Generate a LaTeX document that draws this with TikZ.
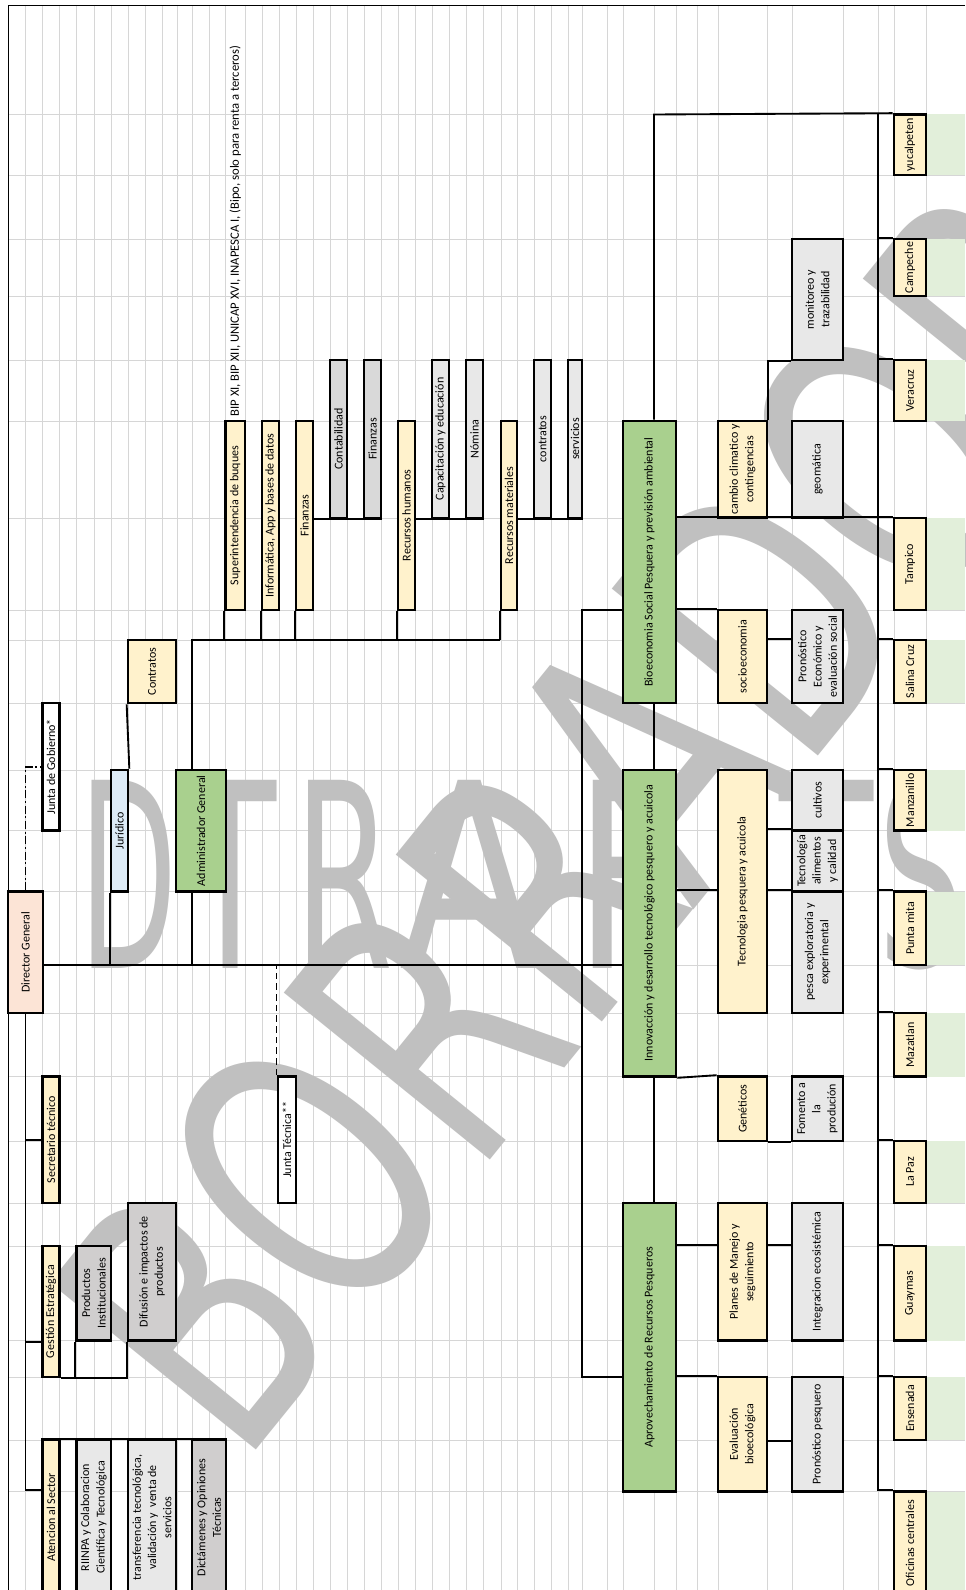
\documentclass[tikz,border=0pt]{standalone}
\usepackage{fontspec}
\setmainfont{Carlito}
\newfontfamily\wmfont{DejaVu Sans}
\usepackage{graphicx}
\usetikzlibrary{fit,calc}
\definecolor{xlyellow}{HTML}{FFF2CC}
\definecolor{xlgreen}{HTML}{A9D08E}
\definecolor{xlpink}{HTML}{FCE4D6}
\definecolor{xlblue}{HTML}{DDEBF7}
\definecolor{xlgray}{HTML}{D9D9D9}
\definecolor{xlstone}{HTML}{D0CECE}
\definecolor{xlsilver}{HTML}{E8E8E8}
\definecolor{xlmint}{HTML}{E2EFDA}
\definecolor{xlgrid}{HTML}{D6D6D6}
\definecolor{xlmark}{HTML}{C0C0C0}
\newlength\pxu
\setlength\pxu{0.75pt}

\begin{document}
\begin{tikzpicture}[
x=0.75pt,y=-0.75pt,
box/.style={draw=black,line width=2pt,inner sep=0pt},
lbl/.style={rotate=90,align=center,inner sep=0pt,font=\fontsize{9}{11.5}\selectfont},
txt/.style={label={[lbl]center:{#1}}},
yel/.style={box,fill=xlyellow},
grn/.style={box,fill=xlgreen},
gry/.style={box,fill=xlgray},
stn/.style={box,fill=xlstone},
lgry/.style={box,fill=xlsilver},
wht/.style={box,fill=white},
ln/.style={line width=1.4pt},
gridln/.style={xlgrid,line width=0.6pt},
wmark/.style={text=xlmark,inner sep=0pt}
]
\useasboundingbox (0,0) rectangle (965,1590);
\fill[white] (0,0) rectangle (965,1590);
\foreach \x in {25,42.5,59.5,76.5,94,111,128,145,162,177,192,209,225.5,245,262,279,296,313,330,347,364,381,398,415,432,449,466,483,501,517,534,551,568,582,607,623,654,676,697,718,767,792,843,878,894,926}
\draw[gridln] (\x,5) -- (\x,1590);
\foreach \y in {114.5,175,239,296,360,421,518,610,640,703,770,830.5,891.5,965,1013,1076.5,1141,1203,1246,1340.5,1377,1440,1491.5}
\draw[gridln] (8,\y) -- (965,\y);
\draw[line width=0.6pt] (8,1590) -- (8,5) -- (965,5);

\foreach \l/\x/\w in {D/129/98,T/231/92,R/344/99,A/470/140,F/630/110,T/827/94,S/922/86}
\node[wmark] (wm\x) at (\x,874) {\wmfont\resizebox{\w\pxu}{188\pxu}{\l}};
\node[wmark,rotate=51] (wmd) at (600,815) {\wmfont\resizebox{1470\pxu}{270\pxu}{BORRADOR}};

\node[box,fill=xlpink,fit={(8,891.5)(43,1013)},txt={Director General}] (dg) {};
\node[wht,fit={(42.5,703)(59.5,830.5)},txt={Junta de Gobierno*}] (jgob) {};
\node[box,fill=xlblue,fit={(111,770)(128,891.5)},txt={Jurídico}] (jur) {};
\node[yel,fit={(128,640)(176,703)},txt={Contratos}] (contr) {};
\node[grn,fit={(176,770)(226,891.5)},txt={Administrador General}] (adm) {};

\node[yel,fit={(225.5,421)(245,610)},txt={Superintendencia de buques}] (sup) {};
\node[yel,fit={(262,421)(279,610)},txt={Informática, App y bases de datos}] (inf) {};
\node[yel,fit={(296,421)(313,610)},txt={Finanzas}] (fin) {};
\node[yel,fit={(398,421)(415,610)},txt={Recursos humanos}] (rh) {};
\node[yel,fit={(501,421)(517,610)},txt={Recursos materiales}] (rm) {};
\node[gry,fit={(330,360)(347,518)},txt={Contabilidad}] (cont) {};
\node[gry,fit={(364,360)(381,518)},txt={Finanzas}] (fin2) {};
\node[lgry,fit={(432,360)(449,518)},txt={Capacitación y educación}] (cap) {};
\node[lgry,fit={(466,360)(483,518)},txt={Nómina}] (nom) {};
\node[lgry,fit={(534,360)(551,518)},txt={contratos}] (ctr) {};
\node[lgry,fit={(568,360)(582,518)},txt={servicios}] (ser) {};
\node[anchor=west,rotate=90,inner sep=0pt,font=\fontsize{9.5}{11.5}\selectfont]
(bip) at ($(sup.north)+(0,-3)$) {BIP XI, BIP XII, UNICAP XVI, INAPESCA I, (Bipo, solo para renta a terceros)};

\node[yel,fit={(42.5,1076.5)(59.5,1203)},txt={Secretario técnico}] (st) {};
\node[wht,fit={(278,1076.5)(296,1203)},txt={Junta Técnica**}] (jt) {};
\node[yel,fit={(42.5,1246)(59.5,1377)},txt={Gestión Estratégica}] (ge) {};
\node[stn,fit={(76.5,1246)(111,1340.5)},txt={Productos\\Institucionales}] (prod) {};
\node[stn,fit={(128,1203)(176,1340.5)},txt={Difusión e impactos de\\productos}] (dif) {};
\node[yel,fit={(42.5,1440)(59.5,1595)},txt={Atencion al Sector}] (at) {};
\node[lgry,fit={(76.5,1440)(111,1595)},txt={RIINPA y Colaboracion\\Científica y Tecnológica}] (rii) {};
\node[lgry,fit={(128,1440)(176,1595)},txt={transferencia tecnológica,\\validación y\ \ venta de\\servicios}] (tra) {};
\node[stn,fit={(192,1440)(226,1595)},txt={Dictámenes y Opiniones\\Técnicas}] (dic) {};

\node[grn,fit={(623,421)(676,703)},txt={Bioeconomia Social Pesquera y previsión ambiental}] (bio) {};
\node[grn,fit={(623,770)(676,1076.5)},txt={Innovacción y desarrollo tecnológico pesquero y acuicola}] (inno) {};
\node[grn,fit={(623,1203)(676,1491.5)},txt={Aprovechamiento de Recursos Pesqueros}] (apr) {};
\node[lgry,fit={(792,239)(843,360)},txt={monitoreo y\\trazabilidad}] (mon) {};
\node[yel,fit={(718,421)(767,518)},txt={cambio climatico y\\contingencias}] (clim) {};
\node[lgry,fit={(792,421)(843,518)},txt={geomática}] (geo) {};
\node[yel,fit={(718,610)(767,703)},txt={socioeconomia}] (soc) {};
\node[lgry,fit={(792,610)(843,703)},txt={Pronóstico\\Económico y\\evaluación social}] (pec) {};
\node[yel,fit={(718,770)(767,1013)},txt={Tecnologia pesquera y acuicola}] (tec) {};
\node[lgry,fit={(792,770)(843,830.5)},txt={cultivos}] (cul) {};
\node[lgry,fit={(792,830.5)(843,891.5)},txt={Tecnología\\alimentos\\y calidad}] (ali) {};
\node[lgry,fit={(792,891.5)(843,1013)},txt={pesca exploratoria y\\experimental}] (pes) {};
\node[yel,fit={(718,1076.5)(767,1141)},txt={Genéticos}] (gen) {};
\node[lgry,fit={(792,1076.5)(843,1141)},txt={Fomento a\\la\\produción}] (fom) {};
\node[yel,fit={(718,1203)(767,1340.5)},txt={Planes de Manejo y\\seguimiento}] (pla) {};
\node[lgry,fit={(792,1203)(843,1340.5)},txt={Integracion ecosistémica}] (int) {};
\node[yel,fit={(718,1377)(767,1491.5)},txt={Evaluación\\bioecológica}] (eva) {};
\node[lgry,fit={(792,1377)(843,1491.5)},txt={Pronóstico pesquero}] (pro) {};

\foreach \n/\t/\b/\s in {yuc/114.5/175/yucalpeten,cmp/239/296/Campeche,ver/360/421/Veracruz,
tam/518/610/Tampico,sal/640/703/Salina Cruz,man/770/830.5/Manzanillo,pun/891.5/965/Punta mita,
maz/1013/1076.5/Mazatlan,paz/1141/1203/La Paz,gua/1246/1340.5/Guaymas,ens/1377/1440/Ensenada,
ofi/1491.5/1595/Oficinas centrales}{
\fill[xlmint] (926,\t) rectangle (965,\b);
\node[yel,fit={(894,\t)(926,\b)},txt=\s] (\n) {};
}

\coordinate (hub) at (582,965);
\coordinate (ak) at (192,640);
\coordinate (tk) at (582,610);
\coordinate (bk) at (582,1377);
\coordinate (vk) at (654,114.5);
\coordinate (sp) at (878,114.5);

\draw[ln] (dg.east |- hub) -- (inno.west |- hub);
\draw[ln] (bio.west |- tk) -- (tk) -- (bk) -- (apr.west |- bk);
\draw[ln] (dg.south) |- ($(at.north west)+(0,51.5)$);
\draw[ln] (dg.south |- st.west) -- (st.west);
\draw[ln] (dg.south |- prod.south) -- (ge.west |- prod.south);
\draw[line width=1.2pt,dash pattern=on 6pt off 2pt on 1.5pt off 2pt] (dg.north) |- (jgob.west);
\draw[line width=1.2pt,dash pattern=on 5pt off 3pt] (jt.north west) -- (jt.north west |- hub);
\draw[ln] (prod.south west) |- (ge.south east);
\draw[ln] (dif.south west) |- (ge.south east);
\draw[ln] (at.north west) -- (dic.north east);

\draw[ln] (contr.south west) -- (jur.north east);
\draw[ln] (jur.south west) -- (jur.south west |- hub);
\draw[ln] (adm.south -| ak) -- (hub -| ak);
\draw[ln] (adm.north -| ak) -- (ak) -- (rm.south west |- ak);
\foreach \n in {sup,inf,fin,rh,rm}
\draw[ln] (\n.south west) -- (\n.south west |- ak);
\foreach \a/\b/\c in {fin/cont/fin2,rh/cap/nom,rm/ctr/ser}
\draw[ln] (\a.east |- \b.south) -- (\c.south east);

\draw[ln] (bio.north -| vk) -- (vk) -- (yuc.north west);
\draw[ln] (sp) -- (sp |- ofi.north west) -- (ofi.north west);
\foreach \n in {cmp,ver,sal,man,pun,maz,paz,gua,ens}
\draw[ln] (sp |- \n.north west) -- (\n.north west);
\draw[ln] (bio.south -| vk) -- (inno.north -| vk);
\draw[ln] (inno.south -| vk) -- (apr.north -| vk);
\draw[ln] (bio.east |- tam.north) -- (tam.north west);
\draw[ln] (bio.east |- soc.north) -- (soc.north west);
\draw[ln] (clim.north east) |- (mon.south west);
\draw[ln] (soc.east |- sal.north) -- (pec.west |- sal.north);

\draw[ln] (inno.east |- pes.north) -- (tec.west |- pes.north);
\draw[ln] (tec.east |- pes.north) -- (pes.north west);
\draw[ln] (tec.east |- ali.north) -- (ali.north west);
\draw[ln] (inno.south east) -- (gen.north west);
\draw[ln] (gen.south east) -- (fom.south west);

\draw[ln] (apr.east |- gua.north) -- (pla.west |- gua.north);
\draw[ln] (pla.east |- gua.north) -- (int.west |- gua.north);
\draw[ln] (apr.east |- eva.north) -- (eva.north west);
\draw[ln] (eva.east |- ens.south) -- (pro.west |- ens.south);
\end{tikzpicture}
\end{document}
